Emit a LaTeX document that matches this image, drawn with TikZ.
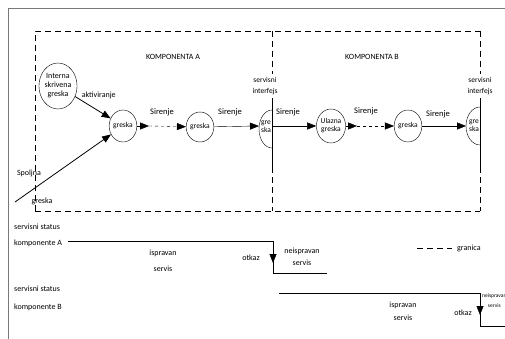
\documentclass[tikz,border=0pt]{standalone}
\usepackage{fontspec}
\setmainfont{Carlito}
\usepackage{tikz}
\usetikzlibrary{arrows.meta, positioning, shapes.geometric}
\definecolor{framegray}{RGB}{120,120,120}

\begin{document}
\begin{tikzpicture}[x=1pt,y=-1pt,
    fault/.style={draw,ellipse,inner sep=0pt,minimum width=24pt,minimum height=32pt,
      font=\fontsize{7.5}{8}\selectfont,align=center},
    lbl/.style={font=\fontsize{8}{9}\selectfont,align=center,inner sep=1pt},
    arr/.style={-{Triangle[length=9pt,width=7pt]}},
    granica/.style={dash pattern=on 6pt off 4pt}]
        \useasboundingbox (0,0) rectangle (505,339);
        \draw[framegray,thick](8,339)--(8,8)--(505,8);
        % granice komponenti
        \draw[granica](35,211)--(35,31)--(480,31);
        \draw[granica](35,211)--(480,211);
        \draw[granica](272,31)--(272,74);
        \draw[granica](272,167)--(272,211);
        \draw[granica](480,31)--(480,74);
        \draw[granica](480,167)--(480,211);
        \draw[semithick](272,98)--(272,167);
        \draw[semithick](480,98)--(480,167);
        \node[lbl] (kompA) at (173,57){KOMPONENTA A};
        \node[lbl] (kompB) at (372,57){KOMPONENTA B};
        \node[lbl,font=\fontsize{7.5}{11}\selectfont] (siA) at (265,86){servisni\\interfejs};
        \node[lbl,font=\fontsize{7.5}{11}\selectfont] (siB) at (480,86){servisni\\interfejs};
        % greske
        \node[fault,minimum width=32pt,minimum height=46pt,font=\fontsize{8}{9}\selectfont] (intg) at (58,86){Interna\\skrivena\\greska};
        \node[fault] (g1) at (123,126){greska};
        \node[fault,minimum height=30pt] (g2) at (200,127){greska};
        \node[fault,minimum height=34pt] (ulg) at (331,126){Ulazna\\greska};
        \node[fault] (g4) at (408,126){greska};
        \draw(272,110) arc[start angle=90,end angle=270,x radius=13pt,y radius=19pt];
        \draw(480,107) arc[start angle=90,end angle=270,x radius=14pt,y radius=19pt];
        \node[lbl,font=\fontsize{7.5}{8}\selectfont,inner sep=0pt] (ifA) at (266,127){gre\\ska};
        \node[lbl,font=\fontsize{7.5}{8}\selectfont,inner sep=0pt] (ifB) at (474,126){gre\\ska};
        \coordinate (ifAin) at (259,126);
        \coordinate (ifAout) at (272,126);
        \coordinate (ifBin) at (466,126);
        \coordinate (m1) at (149,126);
        \coordinate (m2) at (357,126);
        \coordinate (spo) at (15,202);
        % sirenje
        \draw[arr,thick](intg)--(g1) node[pos=0.12,above right=-1pt and 1pt,lbl]{aktiviranje};
        \draw[arr,thick](spo)--(g1);
        \node[lbl] (spoL) at (29,173){Spoljna};
        \node[lbl] (spoG) at (42,201){greska};
        \draw[arr](g1)--(m1);
        \draw[arr,dashed](m1)--(g2);
        \draw[arr](g2)--(ifAin);
        \draw[arr](ifAout)--(ulg);
        \draw[arr](ulg)--(m2);
        \draw[arr,dashed](m2)--(g4);
        \draw[arr](g4)--(ifBin);
        \node[lbl,font=\fontsize{8.5}{9}\selectfont] (s1) at (162,112){Sirenje};
        \node[lbl,font=\fontsize{8.5}{9}\selectfont] (s2) at (230,112){Sirenje};
        \node[lbl,font=\fontsize{8.5}{9}\selectfont] (s3) at (288,112){Sirenje};
        \node[lbl,font=\fontsize{8.5}{9}\selectfont] (s4) at (366,111){Sirenje};
        \node[lbl,font=\fontsize{8.5}{9}\selectfont] (s5) at (438,114){Sirenje};
        % servisni status
        \node[lbl,align=left,anchor=west,font=\fontsize{8}{16}\selectfont] (stA) at (13,235){servisni status\\komponente A};
        \node[lbl,align=left,anchor=west,font=\fontsize{8}{18}\selectfont] (stB) at (13,298){servisni status\\komponente B};
        \coordinate (a0) at (68,241);
        \coordinate (a1) at (273,241);
        \coordinate (am) at (273,263);
        \coordinate (a2) at (273,273);
        \coordinate (a3) at (327,273);
        \draw[semithick](a0)--(a1)--(a2)--(a3);
        \draw[arr](a1)--(am);
        \coordinate (b0) at (279,293);
        \coordinate (b1) at (480,293);
        \coordinate (bm) at (480,315);
        \coordinate (b2) at (480,326);
        \coordinate (b3) at (505,326);
        \draw[semithick](b0)--(b1)--(b2)--(b3);
        \draw[arr](b1)--(bm);
        \node[lbl,font=\fontsize{8}{16}\selectfont] (ispA) at (163,261){ispravan\\servis};
        \node[lbl] (otkA) at (251,258){otkaz};
        \node[lbl,font=\fontsize{8}{12}\selectfont] (neA) at (302,257){neispravan\\servis};
        \node[lbl,font=\fontsize{8}{13}\selectfont] (ispB) at (403,311){ispravan\\servis};
        \node[lbl] (otkB) at (463,313){otkaz};
        \node[lbl,anchor=west,inner sep=0pt,font=\fontsize{5.5}{10}\selectfont] (neB) at (482,301){neispravan\\servis};
        % legenda
        \coordinate (lg0) at (417,248);
        \coordinate (lg1) at (452,248);
        \draw[granica](lg0)--(lg1);
        \node[lbl,anchor=west] (lgT) at (456,248){granica};
      \end{tikzpicture}
\end{document}
